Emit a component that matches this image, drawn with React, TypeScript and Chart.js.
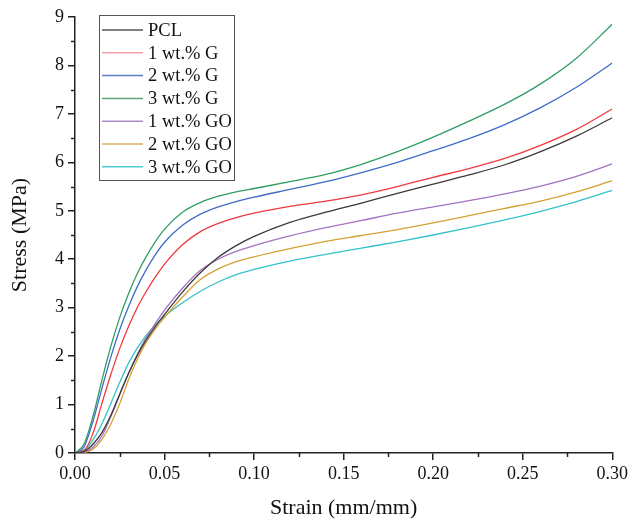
import React, { useEffect, useRef } from "react";
import { Chart, registerables } from "chart.js";

Chart.register(...registerables);

const strain = [0, 0.005, 0.01, 0.015, 0.02, 0.025, 0.03, 0.035, 0.04, 0.045, 0.05, 0.06, 0.07, 0.08, 0.09, 0.1, 0.12, 0.14, 0.16, 0.18, 0.2, 0.22, 0.24, 0.26, 0.28, 0.3];

const pcl = [0, 0.03, 0.18, 0.42, 0.78, 1.22, 1.65, 2.03, 2.35, 2.62, 2.86, 3.32, 3.72, 4.04, 4.28, 4.47, 4.76, 4.97, 5.16, 5.36, 5.55, 5.74, 5.95, 6.22, 6.54, 6.92];
const g1 = [0, 0.05, 0.4, 1.02, 1.62, 2.16, 2.62, 3.02, 3.35, 3.64, 3.9, 4.3, 4.57, 4.74, 4.86, 4.95, 5.09, 5.2, 5.33, 5.5, 5.69, 5.87, 6.08, 6.35, 6.68, 7.1];
const g2 = [0, 0.12, 0.65, 1.33, 1.98, 2.55, 3.03, 3.45, 3.8, 4.1, 4.35, 4.7, 4.93, 5.08, 5.19, 5.28, 5.44, 5.6, 5.79, 6.0, 6.24, 6.49, 6.78, 7.13, 7.55, 8.05];
const g3 = [0, 0.18, 0.75, 1.5, 2.2, 2.8, 3.3, 3.72, 4.07, 4.37, 4.62, 4.97, 5.17, 5.3, 5.39, 5.46, 5.6, 5.75, 5.96, 6.22, 6.52, 6.85, 7.2, 7.62, 8.15, 8.85];
const go1 = [0, 0.02, 0.12, 0.35, 0.75, 1.2, 1.65, 2.05, 2.4, 2.68, 2.95, 3.4, 3.77, 4.0, 4.16, 4.28, 4.48, 4.65, 4.8, 4.95, 5.08, 5.21, 5.35, 5.51, 5.71, 5.97];
const go2 = [0, 0.01, 0.08, 0.28, 0.6, 1.02, 1.52, 1.95, 2.3, 2.57, 2.8, 3.22, 3.58, 3.8, 3.95, 4.05, 4.22, 4.37, 4.49, 4.61, 4.75, 4.9, 5.05, 5.2, 5.39, 5.62];
const go3 = [0, 0.05, 0.27, 0.6, 1.02, 1.46, 1.86, 2.18, 2.44, 2.65, 2.82, 3.1, 3.34, 3.53, 3.68, 3.79, 3.96, 4.1, 4.23, 4.36, 4.5, 4.65, 4.81, 4.99, 5.19, 5.42];

const seriesNames = ["PCL", "1 wt.% G", "2 wt.% G", "3 wt.% G", "1 wt.% GO", "2 wt.% GO", "3 wt.% GO"];
const seriesValues = [pcl, g1, g2, g3, go1, go2, go3];
const seriesColors = ["#3a3a3a", "#f0393f", "#3f6cc6", "#2f9e62", "#a373c2", "#d4a232", "#33c2c9"];
const legendColors = ["#555555", "#f5a0a8", "#5a7fc8", "#5aaa78", "#a88ac4", "#d8b25a", "#4fcfd4"];

const xTicks = [0, 0.05, 0.1, 0.15, 0.2, 0.25, 0.3];
const yTicks = [0, 1, 2, 3, 4, 5, 6, 7, 8, 9];

const FONT = "'Liberation Serif', 'Times New Roman', serif";

const minorTicks = {
  id: "minorTicks",
  afterDraw(chart: any) {
    const ctx = chart.ctx;
    const xs = chart.scales.x;
    const ys = chart.scales.y;
    ctx.save();
    ctx.strokeStyle = "#222";
    ctx.lineWidth = 1.5;
    ctx.beginPath();
    for (let i = 0; i < xTicks.length - 1; i++) {
      const v = (xTicks[i] + xTicks[i + 1]) / 2;
      const px = Math.round(xs.getPixelForValue(v)) + 0.5;
      ctx.moveTo(px, xs.top);
      ctx.lineTo(px, xs.top + 4);
    }
    for (let i = 0; i < yTicks.length - 1; i++) {
      const v = (yTicks[i] + yTicks[i + 1]) / 2;
      const py = Math.round(ys.getPixelForValue(v)) + 0.5;
      ctx.moveTo(ys.right, py);
      ctx.lineTo(ys.right - 4, py);
    }
    ctx.stroke();
    ctx.restore();
  },
};

const boxLegend = {
  id: "boxLegend",
  afterDatasetsDraw(chart: any) {
    const ctx = chart.ctx;
    const left = 99.5;
    const top = 15.5;
    const w = 135;
    const h = 165;
    ctx.save();
    ctx.fillStyle = "#ffffff";
    ctx.fillRect(left, top, w, h);
    ctx.strokeStyle = "#555";
    ctx.lineWidth = 1;
    ctx.strokeRect(left, top, w, h);
    ctx.font = `18.5px ${FONT}`;
    ctx.textBaseline = "middle";
    ctx.textAlign = "left";
    seriesNames.forEach((name, i) => {
      const y = 30 + i * 22.8;
      ctx.strokeStyle = legendColors[i];
      ctx.lineWidth = 1.5;
      ctx.beginPath();
      ctx.moveTo(102, y);
      ctx.lineTo(143, y);
      ctx.stroke();
      ctx.fillStyle = "#111";
      ctx.fillText(name, 148, y + 1);
    });
    ctx.restore();
  },
};

export default function App() {
  const ref = useRef<HTMLCanvasElement>(null);
  useEffect(() => {
    if (!ref.current) return;
    const chart = new Chart(ref.current, {
      type: "line",
      data: {
        datasets: seriesNames.map((name, i) => ({
          label: name,
          data: strain.map((s, j) => ({ x: s, y: seriesValues[i][j] })),
          borderColor: seriesColors[i],
          backgroundColor: seriesColors[i],
          borderWidth: 1.3,
          pointRadius: 0,
          cubicInterpolationMode: "monotone" as const,
          fill: false,
        })),
      },
      options: {
        responsive: false,
        animation: false,
        layout: { padding: { left: 0, top: 17, right: 18, bottom: 0 } },
        plugins: { legend: { display: false }, tooltip: { enabled: false } },
        scales: {
          x: {
            type: "linear",
            min: 0,
            max: 0.3,
            afterBuildTicks(scale: any) {
              scale.ticks = xTicks.map((v) => ({ value: v }));
            },
            afterFit(scale: any) {
              scale.height = 70;
            },
            ticks: {
              color: "#111",
              font: { family: FONT, size: 18 },
              padding: 3,
              maxRotation: 0,
              autoSkip: false,
              callback: (v: any) => Number(v).toFixed(2),
            },
            grid: { drawOnChartArea: false, tickLength: 7, color: "#222", lineWidth: 1.5 },
            border: { color: "#222", width: 1.5 },
            title: {
              display: true,
              text: "Strain (mm/mm)",
              color: "#111",
              font: { family: FONT, size: 22 },
              padding: { top: 0, bottom: 2 },
            },
          },
          y: {
            type: "linear",
            min: 0,
            max: 9,
            afterBuildTicks(scale: any) {
              scale.ticks = yTicks.map((v) => ({ value: v }));
            },
            afterFit(scale: any) {
              scale.width = 75;
            },
            ticks: {
              color: "#111",
              font: { family: FONT, size: 18 },
              padding: 4,
              autoSkip: false,
              callback: (v: any) => String(v),
            },
            grid: { drawOnChartArea: false, tickLength: 7, color: "#222", lineWidth: 1.5 },
            border: { color: "#222", width: 1.5 },
            title: {
              display: true,
              text: "Stress (MPa)",
              color: "#111",
              font: { family: FONT, size: 22 },
              padding: { top: 7, bottom: 0 },
            },
          },
        },
      },
      plugins: [minorTicks, boxLegend],
    });
    return () => chart.destroy();
  }, []);
  return (
    <div style={{ position: "fixed", left: 0, top: 0, width: 631, height: 523, background: "#fff" }}>
      <canvas ref={ref} width={631} height={523} />
    </div>
  );
}
